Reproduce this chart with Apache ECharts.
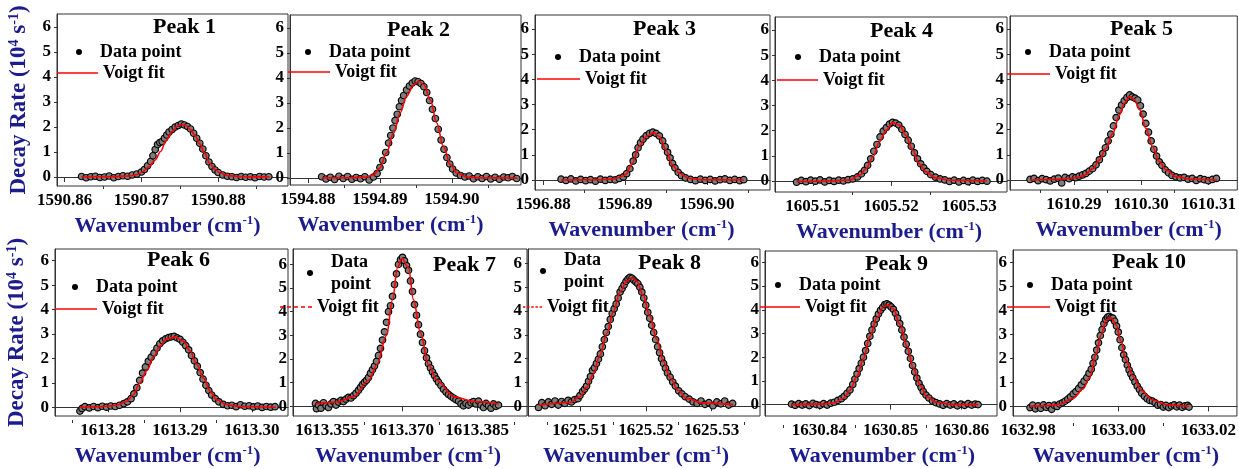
<!DOCTYPE html>
<html>
<head>
<meta charset="utf-8">
<script src="https://cdn.jsdelivr.net/npm/echarts@6/dist/echarts.min.js"></script>
<style>html,body{margin:0;padding:0;background:#fff;}#c{width:1239px;height:469px;}</style>
</head>
<body>
<div id="c"></div>
<script>
// ---------- DATA ----------
const peakTitles = ['Peak 1','Peak 2','Peak 3','Peak 4','Peak 5','Peak 6','Peak 7','Peak 8','Peak 9','Peak 10'];
const yTicks = [0,1,2,3,4,5,6];

const peak1Ticks = [1590.86, 1590.87, 1590.88];
const peak1Minor = [1590.865, 1590.875, 1590.885];
const peak2Ticks = [1594.88, 1594.89, 1594.90];
const peak2Minor = [1594.885, 1594.895, 1594.905];
const peak3Ticks = [1596.88, 1596.89, 1596.90];
const peak3Minor = [1596.885, 1596.895, 1596.905];
const peak4Ticks = [1605.51, 1605.52, 1605.53];
const peak4Minor = [1605.515, 1605.525];
const peak5Ticks = [1610.29, 1610.30, 1610.31];
const peak5Minor = [1610.285, 1610.295, 1610.305];
const peak6Ticks = [1613.28, 1613.29, 1613.30];
const peak6Minor = [1613.275, 1613.285, 1613.295];
const peak7Ticks = [1613.355, 1613.370, 1613.385];
const peak7Minor = [1613.3625, 1613.3775, 1613.3925];
const peak8Ticks = [1625.51, 1625.52, 1625.53];
const peak8Minor = [1625.505, 1625.515, 1625.525, 1625.535];
const peak9Ticks = [1630.84, 1630.85, 1630.86];
const peak9Minor = [1630.835, 1630.845, 1630.855];
const peak10Ticks = [1632.98, 1633.00, 1633.02];
const peak10Minor = [1632.99, 1633.01];

const peak1Data = [[1590.8622,0.02],[1590.8628,-0.03],[1590.8634,0.01],[1590.8640,0.03],[1590.8646,-0.02],[1590.8652,0.00],[1590.8658,0.04],[1590.8664,-0.03],[1590.8670,0.02],[1590.8676,0.05],[1590.8682,0.03],[1590.8688,0.08],[1590.8694,0.12],[1590.8700,0.20],[1590.8704,0.30],[1590.8708,0.45],[1590.8712,0.62],[1590.8715,0.85],[1590.8718,1.10],[1590.8721,1.30],[1590.8724,1.38],[1590.8727,1.42],[1590.8730,1.55],[1590.8733,1.68],[1590.8736,1.80],[1590.8740,1.90],[1590.8744,2.00],[1590.8748,2.06],[1590.8752,2.12],[1590.8756,2.08],[1590.8760,2.02],[1590.8764,1.92],[1590.8768,1.75],[1590.8772,1.55],[1590.8776,1.35],[1590.8780,1.12],[1590.8784,0.85],[1590.8788,0.60],[1590.8792,0.42],[1590.8796,0.28],[1590.8800,0.18],[1590.8806,0.08],[1590.8812,0.03],[1590.8818,0.01],[1590.8824,-0.02],[1590.8830,0.02],[1590.8836,-0.01],[1590.8842,0.01],[1590.8848,-0.03],[1590.8854,0.02],[1590.8860,0.00],[1590.8866,0.01]];
const peak1Fit = [[1590.8622,0],[1590.8660,0.01],[1590.8685,0.04],[1590.8695,0.10],[1590.8702,0.22],[1590.8710,0.42],[1590.8718,0.68],[1590.8725,1.02],[1590.8732,1.45],[1590.8740,1.82],[1590.8746,2.02],[1590.8752,2.10],[1590.8758,2.06],[1590.8764,1.90],[1590.8770,1.65],[1590.8776,1.33],[1590.8782,0.98],[1590.8789,0.55],[1590.8796,0.30],[1590.8803,0.16],[1590.8812,0.06],[1590.8825,0.02],[1590.8845,0.005],[1590.8867,0]];

const peak2Data = [[1594.8819,0.05],[1594.8825,-0.04],[1594.8831,0.03],[1594.8837,-0.06],[1594.8843,0.07],[1594.8849,-0.02],[1594.8855,0.06],[1594.8861,-0.05],[1594.8867,0.02],[1594.8873,-0.03],[1594.8879,0.05],[1594.8885,-0.08],[1594.8891,0.04],[1594.8896,0.18],[1594.8900,0.42],[1594.8904,0.70],[1594.8908,1.02],[1594.8912,1.40],[1594.8915,1.70],[1594.8918,2.00],[1594.8921,2.30],[1594.8924,2.55],[1594.8927,2.85],[1594.8930,3.10],[1594.8933,3.30],[1594.8937,3.52],[1594.8941,3.68],[1594.8945,3.80],[1594.8949,3.88],[1594.8953,3.85],[1594.8957,3.78],[1594.8961,3.65],[1594.8965,3.42],[1594.8969,3.10],[1594.8973,2.75],[1594.8977,2.38],[1594.8981,1.95],[1594.8985,1.52],[1594.8989,1.15],[1594.8993,0.82],[1594.8997,0.56],[1594.9001,0.36],[1594.9006,0.20],[1594.9012,0.10],[1594.9018,0.04],[1594.9024,0.08],[1594.9030,-0.03],[1594.9036,0.05],[1594.9042,-0.02],[1594.9048,0.06],[1594.9054,-0.04],[1594.9060,0.03],[1594.9066,-0.05],[1594.9072,0.04],[1594.9078,0.01],[1594.9084,0.06],[1594.9090,-0.02]];
const peak2Fit = [[1594.8819,0],[1594.8860,0.01],[1594.8880,0.04],[1594.8891,0.12],[1594.8900,0.40],[1594.8909,1.0],[1594.8919,1.8],[1594.8928,2.6],[1594.8937,3.27],[1594.8947,3.73],[1594.8954,3.87],[1594.8961,3.73],[1594.8970,3.13],[1594.8979,2.2],[1594.8988,1.27],[1594.8998,0.53],[1594.9007,0.2],[1594.9021,0.04],[1594.9040,0.01],[1594.9091,0]];

const peak3Data = [[1596.8822,0.03],[1596.8828,-0.02],[1596.8834,0.04],[1596.8840,-0.04],[1596.8846,0.02],[1596.8852,-0.03],[1596.8858,0.01],[1596.8864,-0.05],[1596.8870,0.03],[1596.8876,-0.02],[1596.8882,0.02],[1596.8888,0.00],[1596.8893,0.06],[1596.8898,0.12],[1596.8902,0.25],[1596.8906,0.45],[1596.8910,0.75],[1596.8913,1.00],[1596.8916,1.28],[1596.8919,1.48],[1596.8922,1.62],[1596.8926,1.76],[1596.8930,1.85],[1596.8934,1.90],[1596.8938,1.85],[1596.8942,1.75],[1596.8946,1.55],[1596.8949,1.32],[1596.8952,1.10],[1596.8955,0.88],[1596.8958,0.66],[1596.8961,0.48],[1596.8965,0.30],[1596.8969,0.17],[1596.8974,0.08],[1596.8980,0.02],[1596.8986,-0.03],[1596.8992,0.03],[1596.8998,-0.02],[1596.9004,0.02],[1596.9010,-0.04],[1596.9016,0.01],[1596.9022,0.04],[1596.9028,-0.02],[1596.9034,0.02],[1596.9040,-0.03],[1596.9045,0.01]];
const peak3Fit = [[1596.8822,0],[1596.8870,0.01],[1596.8885,0.04],[1596.8893,0.10],[1596.8901,0.22],[1596.8909,0.66],[1596.8917,1.33],[1596.8926,1.73],[1596.8935,1.88],[1596.8942,1.73],[1596.8950,1.2],[1596.8958,0.6],[1596.8966,0.27],[1596.8978,0.07],[1596.8995,0.01],[1596.9045,0]];

const peak4Data = [[1605.5079,-0.05],[1605.5085,0.02],[1605.5091,-0.03],[1605.5097,0.03],[1605.5103,-0.01],[1605.5109,0.04],[1605.5115,-0.04],[1605.5121,0.02],[1605.5127,-0.02],[1605.5133,0.03],[1605.5139,0.00],[1605.5145,0.05],[1605.5151,0.08],[1605.5157,0.16],[1605.5162,0.28],[1605.5166,0.42],[1605.5170,0.62],[1605.5174,0.88],[1605.5178,1.18],[1605.5182,1.45],[1605.5186,1.75],[1605.5190,1.98],[1605.5194,2.12],[1605.5198,2.26],[1605.5202,2.33],[1605.5206,2.30],[1605.5210,2.22],[1605.5214,2.05],[1605.5218,1.85],[1605.5222,1.62],[1605.5226,1.38],[1605.5230,1.12],[1605.5234,0.88],[1605.5238,0.68],[1605.5242,0.52],[1605.5246,0.38],[1605.5251,0.25],[1605.5257,0.15],[1605.5263,0.08],[1605.5269,0.04],[1605.5275,-0.02],[1605.5281,0.03],[1605.5287,-0.04],[1605.5293,0.02],[1605.5299,-0.03],[1605.5305,0.03],[1605.5311,-0.02],[1605.5317,0.02],[1605.5323,-0.01]];
const peak4Fit = [[1605.5079,-0.02],[1605.5120,0],[1605.5147,0.04],[1605.5160,0.23],[1605.5168,0.49],[1605.5177,0.96],[1605.5185,1.55],[1605.5194,2.02],[1605.5202,2.32],[1605.5211,2.22],[1605.5219,1.82],[1605.5228,1.22],[1605.5236,0.69],[1605.5245,0.36],[1605.5257,0.12],[1605.5275,0.03],[1605.5323,0]];

const peak5Data = [[1610.2835,0.02],[1610.2841,0.06],[1610.2847,-0.03],[1610.2853,0.05],[1610.2859,0.01],[1610.2865,-0.04],[1610.2871,0.03],[1610.2877,0.07],[1610.2882,-0.12],[1610.2887,0.10],[1610.2893,0.05],[1610.2898,0.12],[1610.2903,0.09],[1610.2908,0.15],[1610.2913,0.20],[1610.2918,0.26],[1610.2923,0.35],[1610.2928,0.45],[1610.2933,0.60],[1610.2938,0.80],[1610.2943,1.05],[1610.2947,1.28],[1610.2951,1.55],[1610.2955,1.82],[1610.2959,2.15],[1610.2963,2.48],[1610.2967,2.78],[1610.2971,2.98],[1610.2975,3.15],[1610.2979,3.28],[1610.2983,3.38],[1610.2987,3.30],[1610.2991,3.25],[1610.2995,3.18],[1610.2999,2.95],[1610.3003,2.62],[1610.3007,2.25],[1610.3011,1.90],[1610.3015,1.55],[1610.3019,1.22],[1610.3023,0.95],[1610.3027,0.72],[1610.3031,0.58],[1610.3036,0.40],[1610.3041,0.28],[1610.3046,0.18],[1610.3052,0.12],[1610.3058,0.08],[1610.3064,0.10],[1610.3070,0.03],[1610.3076,0.06],[1610.3082,-0.02],[1610.3088,0.05],[1610.3094,0.01],[1610.3100,-0.03],[1610.3106,0.02],[1610.3112,0.06]];
const peak5Fit = [[1610.2835,0],[1610.2880,0.03],[1610.2900,0.08],[1610.2914,0.16],[1610.2929,0.46],[1610.2938,0.8],[1610.2948,1.26],[1610.2958,1.86],[1610.2968,2.59],[1610.2975,3.05],[1610.2983,3.32],[1610.2990,3.19],[1610.2998,2.79],[1610.3007,2.06],[1610.3017,1.33],[1610.3027,0.73],[1610.3037,0.4],[1610.3052,0.13],[1610.3076,0.03],[1610.3113,0]];

const peak6Data = [[1613.2761,-0.16],[1613.2764,-0.05],[1613.2768,0.02],[1613.2774,-0.03],[1613.2780,0.03],[1613.2786,-0.02],[1613.2792,0.04],[1613.2798,0.00],[1613.2804,0.05],[1613.2810,0.03],[1613.2816,0.08],[1613.2822,0.15],[1613.2827,0.22],[1613.2832,0.35],[1613.2836,0.55],[1613.2840,0.80],[1613.2844,1.10],[1613.2848,1.40],[1613.2852,1.65],[1613.2856,1.88],[1613.2860,2.05],[1613.2864,2.22],[1613.2868,2.42],[1613.2872,2.60],[1613.2876,2.72],[1613.2880,2.80],[1613.2884,2.85],[1613.2888,2.88],[1613.2892,2.90],[1613.2896,2.84],[1613.2900,2.78],[1613.2904,2.66],[1613.2908,2.52],[1613.2912,2.35],[1613.2916,2.12],[1613.2920,1.90],[1613.2924,1.68],[1613.2928,1.42],[1613.2932,1.15],[1613.2936,0.90],[1613.2940,0.68],[1613.2944,0.50],[1613.2949,0.35],[1613.2954,0.22],[1613.2960,0.12],[1613.2966,0.06],[1613.2972,0.08],[1613.2978,0.02],[1613.2984,0.10],[1613.2990,0.04],[1613.2996,0.06],[1613.3002,0.01],[1613.3008,0.05],[1613.3014,-0.01],[1613.3020,0.03],[1613.3026,0.00],[1613.3032,0.02]];
const peak6Fit = [[1613.2761,0],[1613.2790,0.02],[1613.2812,0.08],[1613.2826,0.24],[1613.2835,0.5],[1613.2844,0.97],[1613.2854,1.5],[1613.2863,2.04],[1613.2872,2.5],[1613.2881,2.8],[1613.2893,2.88],[1613.2905,2.7],[1613.2914,2.3],[1613.2923,1.77],[1613.2933,1.17],[1613.2942,0.64],[1613.2951,0.3],[1613.2965,0.1],[1613.2984,0.03],[1613.3033,0]];

const peak7Data = [[1613.3527,0.12],[1613.3529,-0.10],[1613.3533,0.05],[1613.3538,-0.08],[1613.3543,0.15],[1613.3548,0.02],[1613.3553,-0.05],[1613.3558,0.10],[1613.3563,0.20],[1613.3568,0.05],[1613.3573,0.18],[1613.3578,0.25],[1613.3583,0.20],[1613.3588,0.30],[1613.3593,0.38],[1613.3598,0.35],[1613.3603,0.45],[1613.3608,0.55],[1613.3613,0.68],[1613.3617,0.80],[1613.3621,0.92],[1613.3625,1.02],[1613.3629,1.10],[1613.3633,1.22],[1613.3637,1.40],[1613.3641,1.55],[1613.3645,1.70],[1613.3649,1.90],[1613.3653,2.15],[1613.3657,2.45],[1613.3661,2.80],[1613.3665,3.15],[1613.3669,3.55],[1613.3673,4.00],[1613.3677,4.25],[1613.3681,4.65],[1613.3685,5.15],[1613.3689,5.60],[1613.3693,6.00],[1613.3697,6.20],[1613.3701,6.30],[1613.3705,6.15],[1613.3709,5.95],[1613.3713,5.75],[1613.3717,5.30],[1613.3721,4.85],[1613.3725,4.30],[1613.3729,3.85],[1613.3733,3.45],[1613.3737,3.05],[1613.3741,2.70],[1613.3745,2.35],[1613.3749,2.05],[1613.3753,1.80],[1613.3757,1.62],[1613.3761,1.45],[1613.3765,1.30],[1613.3769,1.15],[1613.3773,1.02],[1613.3778,0.88],[1613.3783,0.72],[1613.3788,0.60],[1613.3793,0.50],[1613.3798,0.42],[1613.3803,0.35],[1613.3808,0.28],[1613.3813,0.22],[1613.3818,0.10],[1613.3823,0.02],[1613.3828,0.12],[1613.3833,0.05],[1613.3838,0.15],[1613.3843,0.20],[1613.3848,0.10],[1613.3853,0.22],[1613.3858,0.05],[1613.3863,-0.05],[1613.3868,0.12],[1613.3873,0.02],[1613.3878,-0.08],[1613.3883,0.10],[1613.3888,0.00],[1613.3893,0.05]];
const peak7Fit = [[1613.3527,0.10],[1613.3570,0.18],[1613.3603,0.41],[1613.3633,1.09],[1613.3650,1.77],[1613.3669,3.0],[1613.3681,4.5],[1613.3691,5.86],[1613.3700,6.25],[1613.3713,5.86],[1613.3723,4.5],[1613.3737,3.1],[1613.3753,1.77],[1613.3770,1.09],[1613.3803,0.41],[1613.3843,0.2],[1613.3893,0.10]];

const peak8Data = [[1625.5037,-0.05],[1625.5042,0.15],[1625.5047,0.02],[1625.5052,0.18],[1625.5057,0.08],[1625.5062,0.22],[1625.5067,0.05],[1625.5072,0.20],[1625.5077,0.12],[1625.5082,0.25],[1625.5087,0.18],[1625.5092,0.28],[1625.5097,0.32],[1625.5100,0.45],[1625.5104,0.62],[1625.5107,0.72],[1625.5110,0.85],[1625.5113,1.05],[1625.5116,1.25],[1625.5119,1.50],[1625.5122,1.62],[1625.5125,1.80],[1625.5128,1.98],[1625.5131,2.20],[1625.5134,2.50],[1625.5137,2.80],[1625.5140,3.10],[1625.5143,3.35],[1625.5146,3.65],[1625.5149,3.90],[1625.5152,4.10],[1625.5155,4.30],[1625.5158,4.55],[1625.5161,4.80],[1625.5164,4.95],[1625.5167,5.10],[1625.5170,5.25],[1625.5173,5.35],[1625.5176,5.42],[1625.5179,5.38],[1625.5182,5.30],[1625.5185,5.22],[1625.5188,5.15],[1625.5191,5.00],[1625.5194,4.80],[1625.5197,4.55],[1625.5200,4.25],[1625.5203,3.95],[1625.5206,3.70],[1625.5209,3.40],[1625.5212,3.10],[1625.5215,2.80],[1625.5218,2.50],[1625.5221,2.25],[1625.5224,2.00],[1625.5227,1.80],[1625.5230,1.60],[1625.5233,1.40],[1625.5237,1.22],[1625.5241,1.02],[1625.5245,0.85],[1625.5250,0.65],[1625.5255,0.52],[1625.5260,0.40],[1625.5266,0.30],[1625.5272,0.18],[1625.5278,0.12],[1625.5284,0.22],[1625.5290,0.08],[1625.5296,0.15],[1625.5302,0.02],[1625.5308,0.18],[1625.5314,0.10],[1625.5320,0.22],[1625.5326,0.05],[1625.5332,0.12]];
const peak8Fit = [[1625.5037,0.04],[1625.5085,0.16],[1625.5100,0.4],[1625.5110,0.8],[1625.5120,1.33],[1625.5130,2.13],[1625.5141,3.07],[1625.5151,4.0],[1625.5161,4.8],[1625.5171,5.27],[1625.5179,5.4],[1625.5186,5.27],[1625.5196,4.67],[1625.5206,3.8],[1625.5217,2.8],[1625.5227,1.87],[1625.5237,1.2],[1625.5249,0.67],[1625.5262,0.33],[1625.5287,0.13],[1625.5333,0.07]];

const peak9Data = [[1630.8361,0.02],[1630.8366,-0.03],[1630.8371,0.04],[1630.8376,-0.02],[1630.8381,0.03],[1630.8386,-0.04],[1630.8391,0.05],[1630.8396,0.00],[1630.8401,-0.03],[1630.8406,0.04],[1630.8411,-0.02],[1630.8416,0.06],[1630.8421,0.10],[1630.8426,0.18],[1630.8431,0.25],[1630.8435,0.35],[1630.8439,0.48],[1630.8443,0.62],[1630.8447,0.85],[1630.8450,1.08],[1630.8453,1.30],[1630.8456,1.52],[1630.8459,1.75],[1630.8462,2.00],[1630.8465,2.28],[1630.8468,2.58],[1630.8471,2.88],[1630.8474,3.15],[1630.8477,3.40],[1630.8480,3.62],[1630.8483,3.82],[1630.8486,3.98],[1630.8489,4.10],[1630.8492,4.22],[1630.8495,4.25],[1630.8498,4.20],[1630.8501,4.12],[1630.8504,4.02],[1630.8507,3.85],[1630.8510,3.65],[1630.8513,3.42],[1630.8516,3.15],[1630.8519,2.85],[1630.8522,2.55],[1630.8525,2.25],[1630.8528,1.95],[1630.8531,1.65],[1630.8534,1.38],[1630.8537,1.12],[1630.8540,0.90],[1630.8543,0.72],[1630.8546,0.55],[1630.8550,0.40],[1630.8554,0.28],[1630.8559,0.15],[1630.8564,0.08],[1630.8569,0.03],[1630.8574,-0.03],[1630.8579,0.04],[1630.8584,-0.02],[1630.8589,0.03],[1630.8594,-0.05],[1630.8599,0.02],[1630.8604,-0.03],[1630.8609,0.04],[1630.8614,-0.02],[1630.8619,0.02],[1630.8623,0.00]];
const peak9Fit = [[1630.8361,0],[1630.8405,0.02],[1630.8420,0.07],[1630.8434,0.27],[1630.8443,0.6],[1630.8453,1.2],[1630.8462,1.93],[1630.8471,2.87],[1630.8481,3.67],[1630.8490,4.13],[1630.8497,4.2],[1630.8504,4.04],[1630.8513,3.4],[1630.8523,2.47],[1630.8532,1.53],[1630.8542,0.8],[1630.8551,0.33],[1630.8565,0.09],[1630.8588,0],[1630.8623,0]];

const peak10Data = [[1632.9804,-0.05],[1632.9810,0.05],[1632.9816,-0.10],[1632.9822,0.02],[1632.9828,-0.08],[1632.9834,0.06],[1632.9840,-0.04],[1632.9846,0.03],[1632.9852,-0.12],[1632.9858,0.05],[1632.9864,0.00],[1632.9870,0.10],[1632.9876,0.15],[1632.9882,0.22],[1632.9888,0.30],[1632.9894,0.40],[1632.9900,0.52],[1632.9906,0.62],[1632.9912,0.75],[1632.9918,0.90],[1632.9924,1.05],[1632.9930,1.20],[1632.9935,1.38],[1632.9940,1.55],[1632.9944,1.80],[1632.9948,2.05],[1632.9952,2.35],[1632.9956,2.65],[1632.9960,2.95],[1632.9964,3.20],[1632.9968,3.45],[1632.9972,3.62],[1632.9976,3.72],[1632.9980,3.75],[1632.9984,3.70],[1632.9988,3.68],[1632.9992,3.55],[1632.9996,3.35],[1633.0000,3.10],[1633.0004,2.78],[1633.0008,2.45],[1633.0012,2.15],[1633.0016,1.95],[1633.0020,1.72],[1633.0024,1.52],[1633.0028,1.35],[1633.0032,1.20],[1633.0037,1.02],[1633.0042,0.85],[1633.0047,0.70],[1633.0052,0.55],[1633.0058,0.42],[1633.0064,0.32],[1633.0070,0.25],[1633.0076,0.22],[1633.0082,0.15],[1633.0088,0.05],[1633.0094,0.08],[1633.0100,-0.03],[1633.0106,0.04],[1633.0112,-0.05],[1633.0118,0.02],[1633.0124,0.06],[1633.0130,-0.02],[1633.0136,0.05],[1633.0142,-0.04],[1633.0148,0.02],[1633.0154,0.04],[1633.0157,-0.03]];
const peak10Fit = [[1632.9804,0],[1632.9850,0.04],[1632.9870,0.09],[1632.9899,0.33],[1632.9922,0.73],[1632.9936,1.2],[1632.9951,2.2],[1632.9962,3.0],[1632.9973,3.6],[1632.9984,3.69],[1632.9995,3.4],[1633.0006,2.73],[1633.0017,1.93],[1633.0032,1.27],[1633.0051,0.67],[1633.0076,0.27],[1633.0106,0.07],[1633.0157,0]];

const allData = [peak1Data,peak2Data,peak3Data,peak4Data,peak5Data,peak6Data,peak7Data,peak8Data,peak9Data,peak10Data];
const allFit = [peak1Fit,peak2Fit,peak3Fit,peak4Fit,peak5Fit,peak6Fit,peak7Fit,peak8Fit,peak9Fit,peak10Fit];
const allTicks = [peak1Ticks,peak2Ticks,peak3Ticks,peak4Ticks,peak5Ticks,peak6Ticks,peak7Ticks,peak8Ticks,peak9Ticks,peak10Ticks];
const allMinor = [peak1Minor,peak2Minor,peak3Minor,peak4Minor,peak5Minor,peak6Minor,peak7Minor,peak8Minor,peak9Minor,peak10Minor];

// ---------- LAYOUT (positions / ranges) ----------
const layout = [
  {g:[57,14,231,172],  x:[1590.859,1590.8891],  y:[-0.36,6.52], dec:2, t:[153,16],  dot:[79,52],  fit:[57,73,41],  ns:-5,  yName:true},
  {g:[290,15,231,170], x:[1594.8775,1594.9096], y:[-0.28,6.52], dec:2, t:[387,19],  dot:[308,52], fit:[288,72,42], ns:-15},
  {g:[535,15,235,175], x:[1596.87902,1596.9077],y:[-0.40,6.56], dec:2, t:[633,18],  dot:[558,57], fit:[537,79,43], ns:-11},
  {g:[775,17,232,175], x:[1605.50513,1605.53487],y:[-0.44,6.52],dec:2, t:[870,20],  dot:[798,57], fit:[777,80,41], ns:-2},
  {g:[1010,16,228,174],x:[1610.28052,1610.3143],y:[-0.40,6.52], dec:2, t:[1110,18], dot:[1028,52],fit:[1007,74,43],ns:5},
  {g:[55,249,233,171], x:[1613.27264,1613.305], y:[-0.36,6.48], dec:2, t:[147,249], dot:[75,287], fit:[55,309,42], ns:-4,  yName:true},
  {g:[293,249,234,173],x:[1613.3482,1613.395],  y:[-0.41,6.65], dec:3, t:[433,254], dot:[310,262],fit:[280,307,32],ns:-2, wrap:true, dash:true},
  {g:[528,249,232,173],x:[1625.5021,1625.53736],y:[-0.41,6.61], dec:2, t:[638,252], dot:[543,260],fit:[523,307,19],ns:-8, wrap:true, dash:true},
  {g:[765,251,232,174],x:[1630.83237,1630.86496],y:[-0.48,6.48],dec:2, t:[865,253], dot:[778,285],fit:[760,307,40],ns:1},
  {g:[1013,250,225,173],x:[1632.97662,1633.02634],y:[-0.40,6.52],dec:2,t:[1112,251],dot:[1030,285],fit:[1007,307,43],ns:1}
];

const FONT = 'Liberation Serif';
const NAVY = '#1c1c8c';
const supStyle = {fontFamily: FONT, fontWeight: 'bold', fontSize: 13, color: NAVY, verticalAlign: 'top', lineHeight: 24};
const DASH_ICON = 'path://M0,0H4V1H0Z M7,0H11V1H7Z M14,0H18V1H14Z M21,0H25V1H21Z M28,0H32V1H28Z';

const grids = [], xAxes = [], yAxes = [], series = [], titles = [], legends = [];
layout.forEach((L, k) => {
  grids.push({left: L.g[0], top: L.g[1], width: L.g[2], height: L.g[3], show: true, borderColor: '#333', borderWidth: 1, containLabel: false});
  const dec = L.dec;
  xAxes.push({
    type: 'value', gridIndex: k, position: 'bottom', min: L.x[0], max: L.x[1],
    name: 'Wavenumber (cm{sup|-1})', nameLocation: 'middle', nameGap: 28,
    nameTextStyle: {fontFamily: FONT, fontWeight: 'bold', fontSize: 22, color: NAVY, lineHeight: 24,
      padding: L.ns < 0 ? [0, -2 * L.ns, 0, 0] : [0, 0, 0, 2 * L.ns], rich: {sup: supStyle}},
    axisLine: {show: true, lineStyle: {color: '#333', width: 1}},
    axisTick: {show: true, length: 5, customValues: allTicks[k], lineStyle: {color: '#333'}},
    axisLabel: {show: true, customValues: allTicks[k], margin: 6, fontFamily: FONT, fontWeight: 'bold', fontSize: 17, color: '#000',
      formatter: v => Number(v).toFixed(dec)},
    splitLine: {show: false}
  });
  xAxes.push({
    type: 'value', gridIndex: k, position: 'top', offset: -L.g[3], min: L.x[0], max: L.x[1],
    axisLine: {show: false},
    axisTick: {show: true, inside: true, length: 3, customValues: allMinor[k], lineStyle: {color: '#333'}},
    axisLabel: {show: false}, splitLine: {show: false}
  });
  yAxes.push({
    type: 'value', gridIndex: k, min: L.y[0], max: L.y[1],
    name: L.yName ? 'Decay Rate (10{sup|4} s{sup|-1})' : '', nameLocation: 'middle', nameGap: 25,
    nameTextStyle: {fontFamily: FONT, fontWeight: 'bold', fontSize: 23, color: NAVY, lineHeight: 25, rich: {sup: Object.assign({}, supStyle, {fontSize: 14, lineHeight: 25})}},
    axisLine: {show: true, lineStyle: {color: '#333', width: 1}},
    axisTick: {show: true, length: 3, customValues: yTicks, lineStyle: {color: '#333'}},
    axisLabel: {show: true, customValues: yTicks, margin: 6, fontFamily: FONT, fontWeight: 'bold', fontSize: 17, color: '#000'},
    splitLine: {show: false}
  });
  series.push({
    type: 'scatter', name: 'Data point', xAxisIndex: 2 * k, yAxisIndex: k, data: allData[k],
    symbol: 'circle', symbolSize: 6.5, z: 2,
    itemStyle: {color: '#7d7d7d', borderColor: '#050505', borderWidth: 1.2, opacity: 1}
  });
  series.push({
    type: 'line', name: 'Voigt fit', xAxisIndex: 2 * k, yAxisIndex: k, data: allFit[k],
    symbol: 'none', showSymbol: false, smooth: 0.35, smoothMonotone: 'x', z: 3,
    lineStyle: {color: '#ff0000', width: 1.6}, itemStyle: {color: '#ff0000'}
  });
  titles.push({text: peakTitles[k], left: L.t[0], top: L.t[1], padding: 0,
    textStyle: {fontFamily: FONT, fontWeight: 'bold', fontSize: 22, color: '#000', lineHeight: 22}});
  const legText = {fontFamily: FONT, fontWeight: 'bold', fontSize: 18, color: '#000', lineHeight: 22};
  legends.push({
    left: L.dot[0] - 3, top: L.dot[1] - 11, padding: 0, orient: 'vertical', itemWidth: 32, itemHeight: 6, itemGap: 0,
    selectedMode: false, data: ['Data point'], itemStyle: {color: '#000', borderWidth: 0},
    formatter: L.wrap ? (() => 'Data\npoint') : '{name}', textStyle: legText
  });
  legends.push({
    left: L.fit[0], top: L.fit[1] - 11, padding: 0, orient: 'vertical', itemWidth: L.fit[2], itemHeight: 1.6, itemGap: 0,
    symbolKeepAspect: false, selectedMode: false,
    data: [{name: 'Voigt fit', icon: L.dash ? DASH_ICON : 'rect'}],
    itemStyle: {color: '#ff0000', borderWidth: 0},
    textStyle: legText
  });
});

const chart = echarts.init(document.getElementById('c'), null, {renderer: 'canvas'});
chart.setOption({
  animation: false,
  backgroundColor: '#fff',
  title: titles,
  legend: legends,
  grid: grids,
  xAxis: xAxes,
  yAxis: yAxes,
  series: series
});
</script>
</body>
</html>
